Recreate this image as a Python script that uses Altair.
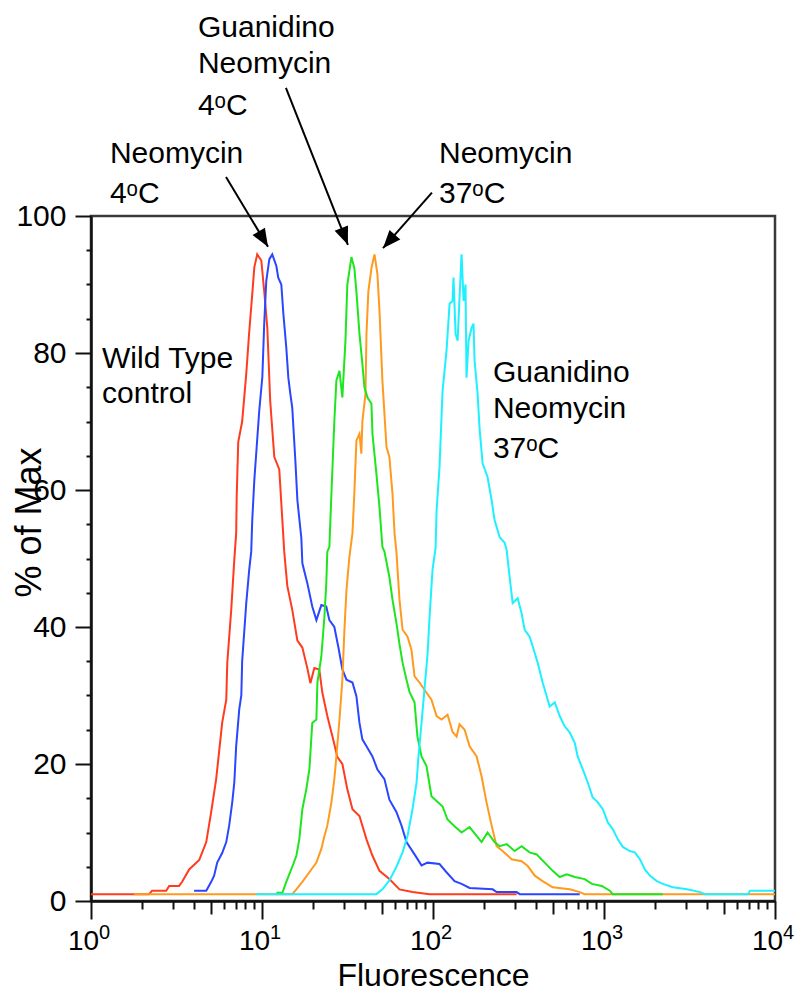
import math
import altair as alt
import pandas as pd

# ---- histogram curves: log10(fluorescence) and % of max ----
red_logx = [0.000, 0.340, 0.357, 0.440, 0.457, 0.515, 0.533, 0.574, 0.633, 0.674, 0.703, 0.732, 0.750, 0.767, 0.791,
            0.797, 0.820, 0.838, 0.849, 0.852, 0.861, 0.884, 0.908, 0.925, 0.943, 0.955, 0.972, 0.996, 1.013, 1.031,
            1.048, 1.072, 1.101, 1.119, 1.130, 1.148, 1.177, 1.207, 1.236, 1.265, 1.283, 1.306, 1.335, 1.353, 1.382,
            1.412, 1.441, 1.470, 1.499, 1.529, 1.570, 1.611, 1.646, 1.687, 1.745, 1.804, 1.880, 1.980, 2.489]
red_pct = [1.0, 1.0, 1.5, 1.5, 2.2, 2.2, 2.8, 4.6, 6.0, 8.6, 13.0, 17.8, 22.0, 26.0, 29.4,
           34.8, 42.5, 49.8, 53.7, 59.0, 67.0, 70.0, 77.0, 83.0, 88.6, 92.5, 94.4, 93.5, 89.0, 83.7,
           73.0, 64.8, 63.0, 55.6, 51.0, 46.0, 42.5, 38.0, 37.0, 34.0, 31.8, 34.0, 33.8, 30.4, 27.0,
           24.0, 21.0, 20.0, 16.3, 13.4, 12.4, 9.0, 6.6, 4.4, 3.2, 1.7, 1.3, 1.0, 1.0]

blue_logx = [0.603, 0.674, 0.703, 0.720, 0.738, 0.767, 0.791, 0.808, 0.826, 0.838, 0.849, 0.867, 0.879, 0.884, 0.908,
             0.925, 0.937, 0.943, 0.955, 0.984, 1.002, 1.013, 1.025, 1.043, 1.060, 1.084, 1.095, 1.113, 1.125, 1.142,
             1.154, 1.166, 1.177, 1.195, 1.207, 1.230, 1.236, 1.265, 1.294, 1.318, 1.347, 1.376, 1.394, 1.423, 1.447,
             1.470, 1.494, 1.529, 1.552, 1.570, 1.587, 1.611, 1.646, 1.675, 1.716, 1.745, 1.786, 1.816, 1.845, 1.892,
             1.933, 1.968, 2.038, 2.079, 2.126, 2.167, 2.214, 2.349, 2.372, 2.489, 2.507, 2.858]
blue_pct = [1.5, 1.5, 2.8, 3.7, 5.6, 7.0, 8.6, 11.0, 14.4, 17.3, 22.6, 28.0, 30.0, 35.0, 43.5,
            48.3, 51.0, 55.6, 61.4, 71.6, 76.5, 84.3, 90.5, 93.7, 94.4, 92.7, 91.0, 90.0, 85.7, 80.8,
            76.4, 74.0, 72.0, 64.3, 58.5, 53.0, 49.3, 46.4, 43.0, 41.0, 43.2, 43.0, 41.0, 40.0, 37.0,
            33.8, 32.3, 31.9, 29.9, 26.0, 23.6, 22.6, 21.1, 19.2, 17.8, 14.8, 13.0, 11.0, 8.6, 6.8,
            5.2, 5.6, 5.4, 4.2, 2.9, 2.5, 1.9, 1.7, 1.3, 1.3, 1.0, 1.0]

orange_logx = [0.252, 1.177, 1.201, 1.236, 1.277, 1.318, 1.347, 1.365, 1.382, 1.406, 1.423, 1.435, 1.453, 1.470, 1.482,
               1.494, 1.511, 1.529, 1.540, 1.552, 1.570, 1.581, 1.587, 1.605, 1.611, 1.622, 1.640, 1.658, 1.675, 1.687,
               1.704, 1.728, 1.745, 1.763, 1.775, 1.786, 1.804, 1.822, 1.851, 1.874, 1.892, 1.921, 1.962, 1.991, 2.021,
               2.050, 2.085, 2.114, 2.138, 2.155, 2.185, 2.214, 2.255, 2.284, 2.313, 2.343, 2.372, 2.407, 2.460, 2.518,
               2.554, 2.595, 2.641, 2.700, 2.800, 2.858, 2.887, 4.000]
orange_pct = [1.0, 1.0, 1.7, 2.8, 4.2, 5.6, 7.6, 9.5, 11.0, 14.4, 17.8, 21.1, 26.5, 32.3, 39.6,
              45.4, 50.2, 53.7, 59.5, 67.2, 68.2, 65.3, 70.0, 74.0, 82.8, 89.0, 92.4, 94.4, 91.5, 86.2,
              76.0, 66.3, 64.8, 59.5, 53.7, 51.0, 44.0, 39.6, 38.6, 36.7, 32.8, 31.9, 30.4, 29.4, 27.0,
              26.5, 27.2, 24.7, 24.0, 25.8, 25.0, 22.6, 21.1, 18.2, 14.4, 11.0, 8.0, 7.3, 6.1, 5.8,
              5.1, 3.7, 2.9, 2.0, 1.7, 1.3, 1.0, 1.0]

green_logx = [1.084, 1.119, 1.142, 1.171, 1.201, 1.218, 1.236, 1.259, 1.277, 1.294, 1.318, 1.324, 1.347, 1.365, 1.376,
              1.382, 1.394, 1.406, 1.423, 1.435, 1.453, 1.470, 1.488, 1.499, 1.523, 1.540, 1.552, 1.570, 1.587, 1.599,
              1.617, 1.640, 1.646, 1.669, 1.687, 1.704, 1.716, 1.745, 1.763, 1.786, 1.804, 1.822, 1.845, 1.863, 1.892,
              1.909, 1.933, 1.962, 1.991, 2.021, 2.056, 2.085, 2.126, 2.167, 2.214, 2.255, 2.284, 2.319, 2.360, 2.390,
              2.431, 2.477, 2.518, 2.565, 2.606, 2.653, 2.700, 2.741, 2.782, 2.829, 2.887, 2.929, 2.987, 3.034, 3.051,
              3.344]
green_pct = [1.2, 1.2, 2.8, 4.6, 6.6, 9.0, 13.4, 16.3, 19.2, 26.0, 26.5, 31.9, 35.7, 41.5, 46.4,
             51.0, 51.7, 59.5, 70.0, 76.0, 77.4, 73.5, 81.8, 90.0, 94.0, 92.4, 89.0, 82.8, 78.4, 75.0,
             73.5, 72.6, 68.2, 62.4, 57.5, 51.7, 51.0, 47.3, 44.0, 40.6, 37.5, 34.8, 32.3, 30.5, 29.0,
             24.0, 21.1, 19.7, 15.3, 14.6, 13.8, 11.9, 10.9, 10.0, 10.8, 9.5, 8.6, 10.0, 8.6, 8.0,
             8.3, 7.3, 8.0, 7.1, 6.8, 5.6, 4.4, 3.5, 3.9, 3.5, 3.2, 2.5, 2.2, 1.5, 1.0,
             1.0]

cyan_logx = [0.966, 1.669, 1.704, 1.745, 1.786, 1.822, 1.851, 1.880, 1.904, 1.915, 1.933, 1.950, 1.968, 1.980, 1.997,
             2.015, 2.021, 2.038, 2.056, 2.079, 2.097, 2.114, 2.120, 2.132, 2.144, 2.155, 2.167, 2.179, 2.190, 2.196,
             2.208, 2.226, 2.237, 2.243, 2.261, 2.272, 2.290, 2.319, 2.343, 2.360, 2.390, 2.419, 2.431, 2.448, 2.466,
             2.495, 2.518, 2.536, 2.565, 2.595, 2.612, 2.641, 2.665, 2.682, 2.712, 2.741, 2.770, 2.800, 2.829, 2.846,
             2.876, 2.905, 2.934, 2.964, 2.993, 3.022, 3.051, 3.081, 3.110, 3.151, 3.180, 3.210, 3.239, 3.268, 3.309,
             3.344, 3.403, 3.485, 3.561, 3.590, 3.842, 3.854, 4.000]
cyan_pct = [1.0, 1.0, 1.7, 3.0, 5.0, 7.1, 9.5, 13.4, 17.3, 21.1, 26.0, 30.9, 36.0, 41.5, 48.3,
            51.5, 57.0, 63.3, 74.5, 80.3, 87.2, 87.6, 91.0, 82.8, 81.8, 88.0, 94.4, 87.6, 90.0, 76.4,
            81.8, 83.7, 84.3, 78.9, 74.0, 69.1, 63.9, 61.9, 58.5, 55.6, 53.1, 52.3, 51.2, 47.3, 43.5,
            44.2, 42.0, 39.6, 38.6, 36.2, 34.8, 31.9, 29.9, 28.4, 29.0, 27.0, 25.5, 24.6, 23.1, 21.1,
            19.2, 17.3, 15.1, 14.4, 13.4, 11.5, 10.5, 9.0, 7.9, 7.3, 7.1, 6.1, 4.6, 3.7, 2.9,
            2.5, 2.0, 1.7, 1.3, 1.0, 1.0, 1.5, 1.5]

series_names = ["Wild Type control", "Neomycin 4C", "Neomycin 37C", "Guanidino Neomycin 4C", "Guanidino Neomycin 37C"]
series_colors = ["#ff3c1e", "#2a46ff", "#ff9a1e", "#1ee61e", "#1ef0ff"]
series_logx = [red_logx, blue_logx, orange_logx, green_logx, cyan_logx]
series_pct = [red_pct, blue_pct, orange_pct, green_pct, cyan_pct]

# ---- annotation texts (left edge fluorescence, baseline % of max) ----
ann_text = ["Neomycin", "4ᵒC",
            "Guanidino", "Neomycin", "4ᵒC",
            "Neomycin", "37ᵒC",
            "Wild Type", "control",
            "Guanidino", "Neomycin", "37ᵒC"]
ann_x = [1.29, 1.29,
         4.22, 4.22, 4.22,
         108.4, 108.4,
         1.16, 1.16,
         224.0, 224.0, 224.0]
ann_y = [107.7, 101.9,
         126.1, 120.9, 114.7,
         107.7, 101.9,
         77.8, 72.7,
         75.8, 70.5, 64.7]

# ---- arrows: start (x, y) -> tip (x2, y2) ----
arrow_x = [6.16, 13.8, 98.6]
arrow_y = [105.7, 118.7, 103.4]
arrow_x2 = [10.84, 31.8, 51.0]
arrow_y2 = [95.5, 95.8, 95.3]

# ---- tick labels ----
decade_values = [1, 10, 100, 1000, 10000]
decade_exponents = ["0", "1", "2", "3", "4"]
mid_values = [5, 50, 500, 5000]
minor_values = [k * 10 ** d for d in range(4) for k in (2, 3, 4, 6, 7, 8, 9)]
y_major = [0, 20, 40, 60, 80, 100]
y_minor = [v for v in range(5, 100, 5) if v % 20 != 0]

W, H = 684, 685
FONT = "Liberation Sans"

xscale = alt.Scale(type="log", domain=[1, 10000], nice=False)
yscale = alt.Scale(domain=[0, 100], nice=False, zero=True)


def px(xv, yv):
    return math.log10(xv) / 4 * W, (1 - yv / 100) * H


arrow_ang = []
for a, b, c, d in zip(arrow_x, arrow_y, arrow_x2, arrow_y2):
    x0, y0 = px(a, b)
    x1, y1 = px(c, d)
    arrow_ang.append(math.degrees(math.atan2(x1 - x0, -(y1 - y0))) % 360)

x_major_axis = alt.Axis(values=decade_values, labelExpr="'10'", tickSize=18, labelFontSize=28,
                        labelPadding=8, labelOffset=-8, labelFlush=False, labelOverlap=False,
                        labelBound=False, title="Fluorescence", titleFontSize=32,
                        titleFontWeight="normal", titleY=84, titleBaseline="alphabetic",
                        grid=False, orient="bottom")
x_mid_axis = alt.Axis(values=mid_values, tickSize=13, labels=False, domain=False, title=None,
                      grid=False, orient="bottom")
x_minor_axis = alt.Axis(values=minor_values, tickSize=8, labels=False, domain=False, title=None,
                        grid=False, orient="bottom")
y_major_axis = alt.Axis(values=y_major, tickSize=16, labelFontSize=30, labelPadding=9,
                        labelFlush=False, title="% of Max", titleFontSize=36, titleFontWeight="normal",
                        titleX=-62, titleY=306, titleAngle=270, titleAlign="center",
                        titleBaseline="middle", grid=False, orient="left")
y_minor_axis = alt.Axis(values=y_minor, tickSize=5, labels=False, domain=False, title=None,
                        grid=False, orient="left")

layers = []
for i, (name, col, lx, pc) in enumerate(zip(series_names, series_colors, series_logx, series_pct)):
    df = pd.DataFrame({"fl": [10 ** v for v in lx], "pct": pc, "series": name})
    layers.append(
        alt.Chart(df).mark_line(color=col, strokeWidth=2, interpolate="linear").encode(
            x=alt.X("fl:Q", scale=xscale, axis=x_major_axis if i == 0 else None),
            y=alt.Y("pct:Q", scale=yscale, axis=y_major_axis if i == 0 else None),
            order="fl:Q",
        )
    )

exp_df = pd.DataFrame({"fl": decade_values, "exp": decade_exponents, "pct": [0] * 5})
exps = alt.Chart(exp_df).mark_text(align="left", baseline="alphabetic", dx=8, dy=38,
                                   fontSize=20, font=FONT, color="black").encode(
    x=alt.X("fl:Q", scale=xscale, axis=x_mid_axis),
    y=alt.Y("pct:Q", scale=yscale, axis=y_minor_axis),
    text="exp:N",
)

ann_df = pd.DataFrame({"fl": ann_x, "pct": ann_y, "t": ann_text})
anns = alt.Chart(ann_df).mark_text(align="left", baseline="alphabetic", fontSize=30,
                                   font=FONT, color="black").encode(
    x=alt.X("fl:Q", scale=xscale, axis=x_minor_axis),
    y=alt.Y("pct:Q", scale=yscale, axis=None),
    text="t:N",
)

arr_df = pd.DataFrame({"x": arrow_x, "y": arrow_y, "x2": arrow_x2, "y2": arrow_y2, "ang": arrow_ang})
shafts = alt.Chart(arr_df).mark_rule(color="black", strokeWidth=2).encode(
    x=alt.X("x:Q", scale=xscale, axis=None),
    y=alt.Y("y:Q", scale=yscale, axis=None),
    x2="x2:Q",
    y2="y2:Q",
)
heads = alt.Chart(arr_df).mark_point(shape="M0,0L-0.4,1L0.4,1Z", filled=True, color="black",
                                     opacity=1, size=1296).encode(
    x=alt.X("x2:Q", scale=xscale, axis=None),
    y=alt.Y("y2:Q", scale=yscale, axis=None),
    angle=alt.Angle("ang:Q", scale=None),
)

chart = alt.layer(*layers, exps, anns, shafts, heads).resolve_axis(
    x="independent", y="independent"
).properties(
    width=W, height=H,
    autosize=alt.AutoSizeParams(type="none"),
    padding={"left": 83, "top": 208, "right": 20, "bottom": 91},
).configure_view(
    stroke="#3a3a3a", strokeWidth=2.5
).configure_axis(
    domainColor="#111111", domainWidth=2.5, tickColor="#111111", tickWidth=2,
    labelColor="black", titleColor="black", labelFont=FONT, titleFont=FONT,
)

chart.save("out.html", embed_options={"renderer": "svg", "actions": False})
